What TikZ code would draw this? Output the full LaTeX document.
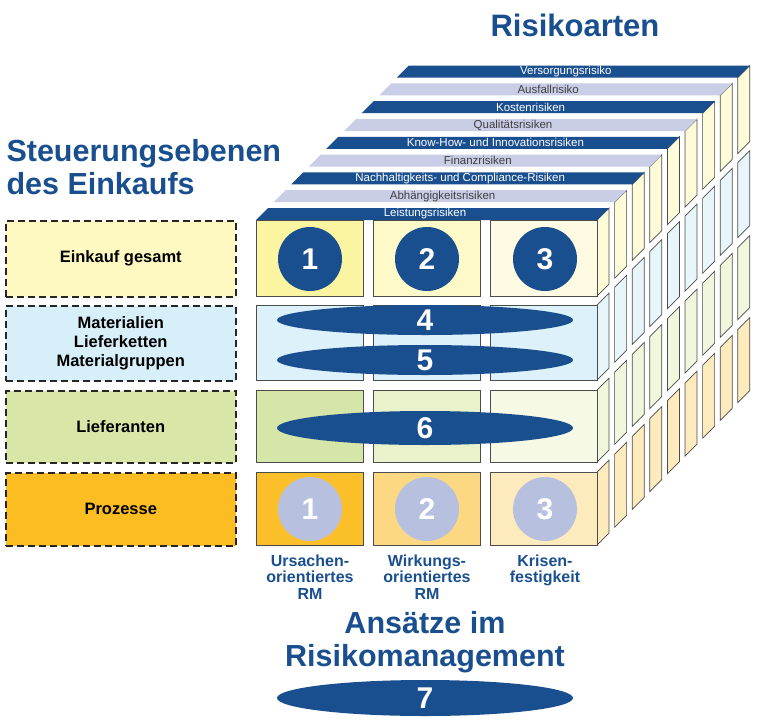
\documentclass[tikz,border=0pt]{standalone}
\usepackage{fontspec}
\setmainfont{Liberation Sans}
\begin{document}
\begin{tikzpicture}[x=1pt,y=-1pt,
  edge/.style={draw=black!70,line width=0.7pt},
  lbox/.style={draw=black!85,dash pattern=on 7pt off 4pt,line width=1.5pt,minimum width=230pt,font=\fontsize{16.5}{19}\selectfont\bfseries,align=center,anchor=north west,inner sep=0pt},
  bigball/.style={circle,fill=dblue,text=white,minimum size=64pt,font=\fontsize{30}{30}\selectfont\bfseries,inner sep=0pt},
  paleball/.style={circle,fill=lav2,text=white,minimum size=64pt,font=\fontsize{30}{30}\selectfont\bfseries,inner sep=0pt},
  oval/.style={ellipse,fill=dblue,text=white,font=\fontsize{30}{30}\selectfont\bfseries,inner sep=0pt},
  title/.style={text=dblue,font=\fontsize{30.5}{33}\selectfont\bfseries,align=center},
  collab/.style={text=dblue,font=\fontsize{16}{16.5}\selectfont\bfseries,align=center,anchor=north}]
\usetikzlibrary{shapes.geometric}
\definecolor{dblue}{HTML}{1A4F8F}
\definecolor{lav}{HTML}{C9CDE6}
\definecolor{lav2}{HTML}{B8C0E0}
\definecolor{sy}{HTML}{FDFBD8}
\definecolor{sb}{HTML}{E8F6FB}
\definecolor{sg}{HTML}{F0F7DC}
\definecolor{so}{HTML}{FDEBBE}
\useasboundingbox (0,0) rectangle (768,726);
% layers back to front
\foreach \k/\txt/\fc/\tc in {8/Versorgungsrisiko/dblue/white,7/Ausfallrisiko/lav/black!75,6/Kostenrisiken/dblue/white,5/Qualitätsrisiken/lav/black!75,4/Know-How- und Innovationsrisiken/dblue/white,3/Finanzrisiken/lav/black!75,2/Nachhaltigkeits- und Compliance-Risiken/dblue/white,1/Abhängigkeitsrisiken/lav/black!75,0/Leistungsrisiken/dblue/white}{
  \pgfmathsetmacro{\ox}{\k*17.6}
  \pgfmathsetmacro{\oy}{-\k*17.8}
  \begin{scope}[shift={(\ox,\oy)}]
  \foreach \t/\b/\c in {220/296/sy,305/380/sb,390/462/sg,472/545/so}{
    \draw[edge,fill=\c] (597,\t) -- (609,\t-12) -- (609,\b-12) -- (597,\b) -- cycle;
  }
  \fill[\fc] (256,220) -- (268,208) -- (609,208) -- (597,220) -- cycle;
  \node[text=\tc,font=\fontsize{11.5}{12}\selectfont,inner sep=0pt] (s\k) at (425,214) {\txt};
  \end{scope}
}
% front boxes
\definecolor{a1}{HTML}{FBF4A0}\definecolor{a2}{HTML}{FDF9C8}\definecolor{a3}{HTML}{FEFBE2}
\definecolor{b1}{HTML}{DDF1FA}
\definecolor{c1}{HTML}{D6E6A8}\definecolor{c2}{HTML}{E9F2CA}\definecolor{c3}{HTML}{F5F9E6}
\definecolor{d1}{HTML}{FBBF2A}\definecolor{d2}{HTML}{FDD883}\definecolor{d3}{HTML}{FDEBBD}
\foreach \r/\t/\b/\ca/\cb/\cc in {1/220/296/a1/a2/a3,2/305/380/b1/b1/b1,3/390/462/c1/c2/c3,4/472/545/d1/d2/d3}{
  \draw[edge,fill=\ca] (256,\t) rectangle (363,\b);
  \draw[edge,fill=\cb] (373,\t) rectangle (480,\b);
  \draw[edge,fill=\cc] (490,\t) rectangle (597,\b);
}
\node[bigball] (n1) at (310,259) {1};
\node[bigball] (n2) at (427,259) {2};
\node[bigball] (n3) at (545,259) {3};
\node[paleball] (m1) at (310,509) {1};
\node[paleball] (m2) at (427,509) {2};
\node[paleball] (m3) at (545,509) {3};
\node[oval,minimum width=296pt,minimum height=30pt] (n4) at (425,320) {4};
\node[oval,minimum width=296pt,minimum height=30pt] (n5) at (425,360) {5};
\node[oval,minimum width=296pt,minimum height=34pt] (n6) at (425,428) {6};
\node[oval,minimum width=296pt,minimum height=36pt] (n7) at (425,698) {7};
% left boxes
\definecolor{ly}{HTML}{FDF9C0}\definecolor{lb}{HTML}{D7EFF9}\definecolor{lg}{HTML}{D8E7A8}\definecolor{lo}{HTML}{FBBD22}
\node[lbox,fill=ly,minimum height=76pt] (l1) at (5,220) {Einkauf gesamt};
\node[lbox,fill=lb,minimum height=75pt] (l2) at (5,305) {Materialien\\Lieferketten\\Materialgruppen};
\node[lbox,fill=lg,minimum height=72pt] (l3) at (5,390) {Lieferanten};
\node[lbox,fill=lo,minimum height=73pt] (l4) at (5,472) {Prozesse};
% titles
\node[title,font=\fontsize{31}{33}\selectfont\bfseries] (t1) at (575,25) {Risikoarten};
\node[title,align=left,anchor=north west] (t2) at (3,136) {Steuerungsebenen\\des Einkaufs};
\node[title] (t3) at (425,642) {Ansätze im\\Risikomanagement};
\node[collab] (c1) at (310,551) {Ursachen-\\orientiertes\\RM};
\node[collab] (c2) at (427,551) {Wirkungs-\\orientiertes\\RM};
\node[collab] (c3) at (545,551) {Krisen-\\festigkeit};
\end{tikzpicture}
\end{document}
